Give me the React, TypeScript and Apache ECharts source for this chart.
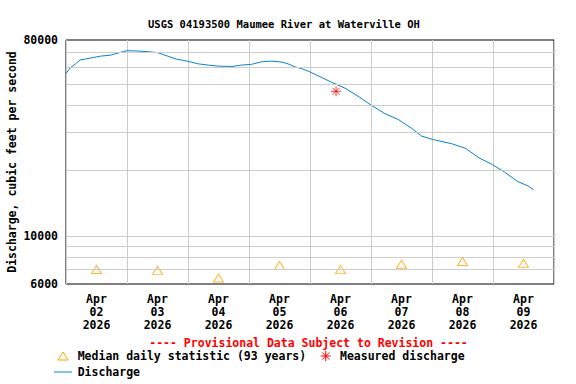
import React, { useEffect, useRef } from "react";
import * as echarts from "echarts";

const chartTitle = "USGS 04193500 Maumee River at Waterville OH";
const yAxisTitle = "Discharge, cubic feet per second";
const dayLabels = [
  "Apr\n02\n2026",
  "Apr\n03\n2026",
  "Apr\n04\n2026",
  "Apr\n05\n2026",
  "Apr\n06\n2026",
  "Apr\n07\n2026",
  "Apr\n08\n2026",
  "Apr\n09\n2026",
];
const medianValues = [7000, 6930, 6390, 7300, 6990, 7400, 7620, 7480];

const dischargeTimes = [
  "2026-04-02 00:00", "2026-04-02 01:45", "2026-04-02 03:45", "2026-04-02 05:30",
  "2026-04-02 09:30", "2026-04-02 13:30", "2026-04-02 17:30", "2026-04-02 22:30",
  "2026-04-03 00:00", "2026-04-03 04:00", "2026-04-03 08:00", "2026-04-03 12:00",
  "2026-04-03 15:45", "2026-04-03 19:30", "2026-04-04 00:00", "2026-04-04 04:00",
  "2026-04-04 08:00", "2026-04-04 12:00", "2026-04-04 17:15", "2026-04-04 21:00",
  "2026-04-05 01:00", "2026-04-05 05:00", "2026-04-05 09:00", "2026-04-05 13:00",
  "2026-04-05 15:30", "2026-04-05 18:00", "2026-04-05 20:45", "2026-04-05 23:15",
  "2026-04-06 02:30", "2026-04-06 08:30", "2026-04-06 13:45", "2026-04-06 19:00",
  "2026-04-07 00:15", "2026-04-07 05:30", "2026-04-07 10:45", "2026-04-07 16:00",
  "2026-04-07 20:00", "2026-04-08 00:30", "2026-04-08 07:45", "2026-04-08 13:15",
  "2026-04-08 18:30", "2026-04-08 23:30", "2026-04-09 04:30", "2026-04-09 09:45",
  "2026-04-09 13:45", "2026-04-09 16:00",
];
const dischargeValues = [
  56100, 59600, 62100, 64700,
  66000, 67400, 68100, 70700,
  71400, 71200, 70700, 70000,
  67600, 65300, 63800, 62100,
  61300, 60600, 60400, 61300,
  61800, 63500, 63900, 63300,
  62000, 60200, 59000, 57500,
  55200, 51100, 48000, 44000,
  39900, 36600, 34400, 31300,
  28800, 27800, 26600, 25300,
  22900, 21400, 19700, 17800,
  17000, 16300,
];

const measuredTimes = ["2026-04-06 10:15"];
const measuredValues = [46400];

const yTickMin = 6000;
const yTickMax = 80000;
const gridValues = [7000, 8000, 9000, 10000, 20000, 30000, 40000, 50000, 60000, 70000];

const FONT = "'DejaVu Sans Mono', 'Liberation Mono', monospace";
const BLUE = "#0a80d0";
const ORANGE = "#ffa500";
const RED = "#ff0000";

export default function App() {
  const ref = useRef<HTMLDivElement>(null);

  useEffect(() => {
    document.body.style.margin = "0";
    if (!ref.current) return;
    const chart = echarts.init(ref.current, null, { renderer: "svg" });

    const starCx = 325.7;
    const starCy = 356;
    const r = 5;
    const d = 3.6;

    chart.setOption({
      animation: false,
      backgroundColor: "#ffffff",
      title: {
        text: chartTitle,
        left: 143,
        top: 13,
        textStyle: { fontFamily: FONT, fontSize: 10.5, fontWeight: "bold", color: "#000" },
      },
      grid: {
        left: 66,
        right: 22,
        top: 40,
        bottom: 100,
        containLabel: false,
        outerBoundsMode: "none",
        show: true,
        borderColor: "#000",
        borderWidth: 1,
        backgroundColor: "transparent",
      },
      xAxis: [
        {
          type: "time",
          min: +new Date(2026, 3, 2, 0, 0),
          max: +new Date(2026, 3, 10, 0, 0),
          show: false,
        },
        {
          type: "category",
          data: dayLabels,
          boundaryGap: true,
          position: "bottom",
          axisLine: { show: false },
          axisTick: { show: false },
          splitLine: { show: true, interval: 0, lineStyle: { color: "#cccccc", width: 1 } },
          axisLabel: {
            interval: 0,
            margin: 8,
            fontFamily: FONT,
            fontSize: 11.5,
            fontWeight: "bold",
            color: "#000",
            lineHeight: 13,
          },
        },
      ],
      yAxis: {
        type: "log",
        logBase: 10,
        min: yTickMin,
        max: yTickMax,
        axisLine: { show: false },
        axisTick: { show: false },
        splitLine: { show: false },
        axisLabel: {
          margin: 8,
          fontFamily: FONT,
          fontSize: 11.5,
          fontWeight: "bold",
          color: "#000",
          formatter: (v: number) => String(Math.round(v)),
        },
        name: yAxisTitle,
        nameLocation: "middle",
        nameGap: 48,
        nameMoveOverlap: false,
        nameRotate: 90,
        nameTextStyle: { fontFamily: FONT, fontSize: 11.5, fontWeight: "bold", color: "#000" },
      },
      series: [
        {
          name: "grid",
          type: "line",
          xAxisIndex: 0,
          data: [],
          z: 1,
          silent: true,
          markLine: {
            silent: true,
            symbol: "none",
            label: { show: false },
            lineStyle: { color: "#cccccc", width: 1, type: "solid" },
            data: gridValues.map((v) => ({ yAxis: v })),
          },
        },
        {
          name: "Discharge",
          type: "line",
          xAxisIndex: 0,
          data: dischargeTimes.map((t, i) => [t, dischargeValues[i]]),
          showSymbol: false,
          lineStyle: { color: BLUE, width: 1 },
          itemStyle: { color: BLUE },
          z: 3,
        },
        {
          name: "Median daily statistic (93 years)",
          type: "scatter",
          xAxisIndex: 1,
          data: medianValues,
          symbol: "triangle",
          symbolSize: [10, 8],
          itemStyle: { color: "rgba(0,0,0,0)", borderColor: ORANGE, borderWidth: 1 },
          z: 4,
        },
        {
          name: "Measured discharge",
          type: "scatter",
          xAxisIndex: 0,
          data: measuredTimes.map((t, i) => [t, measuredValues[i]]),
          symbol: "path://M5 0L5 10M0 5L10 5M1.5 1.5L8.5 8.5M8.5 1.5L1.5 8.5",
          symbolSize: 10,
          itemStyle: { color: "rgba(0,0,0,0)", borderColor: RED, borderWidth: 1 },
          z: 5,
        },
      ],
      graphic: [
        {
          type: "text",
          x: 308.5,
          y: 343,
          style: {
            text: "---- Provisional Data Subject to Revision ----",
            fill: RED,
            font: `bold 11.5px ${FONT}`,
            align: "center",
            verticalAlign: "middle",
          },
        },
        {
          type: "polygon",
          shape: { points: [[58, 360], [68, 360], [63, 352]] },
          style: { fill: "none", stroke: ORANGE, lineWidth: 1 },
        },
        {
          type: "text",
          x: 77.7,
          y: 356,
          style: {
            text: "Median daily statistic (93 years)",
            fill: "#000",
            font: `bold 11.5px ${FONT}`,
            align: "left",
            verticalAlign: "middle",
          },
        },
        { type: "line", shape: { x1: starCx - r, y1: starCy, x2: starCx + r, y2: starCy }, style: { stroke: RED, lineWidth: 1 } },
        { type: "line", shape: { x1: starCx, y1: starCy - r, x2: starCx, y2: starCy + r }, style: { stroke: RED, lineWidth: 1 } },
        { type: "line", shape: { x1: starCx - d, y1: starCy - d, x2: starCx + d, y2: starCy + d }, style: { stroke: RED, lineWidth: 1 } },
        { type: "line", shape: { x1: starCx - d, y1: starCy + d, x2: starCx + d, y2: starCy - d }, style: { stroke: RED, lineWidth: 1 } },
        {
          type: "text",
          x: 340,
          y: 356,
          style: {
            text: "Measured discharge",
            fill: "#000",
            font: `bold 11.5px ${FONT}`,
            align: "left",
            verticalAlign: "middle",
          },
        },
        {
          type: "line",
          shape: { x1: 54, y1: 372, x2: 72, y2: 372 },
          style: { stroke: BLUE, lineWidth: 1 },
        },
        {
          type: "text",
          x: 77.7,
          y: 372,
          style: {
            text: "Discharge",
            fill: "#000",
            font: `bold 11.5px ${FONT}`,
            align: "left",
            verticalAlign: "middle",
          },
        },
      ],
    });

    return () => {
      chart.dispose();
    };
  }, []);

  return (
    <div
      ref={ref}
      style={{ position: "absolute", left: 0, top: 0, width: 576, height: 384 }}
    />
  );
}
